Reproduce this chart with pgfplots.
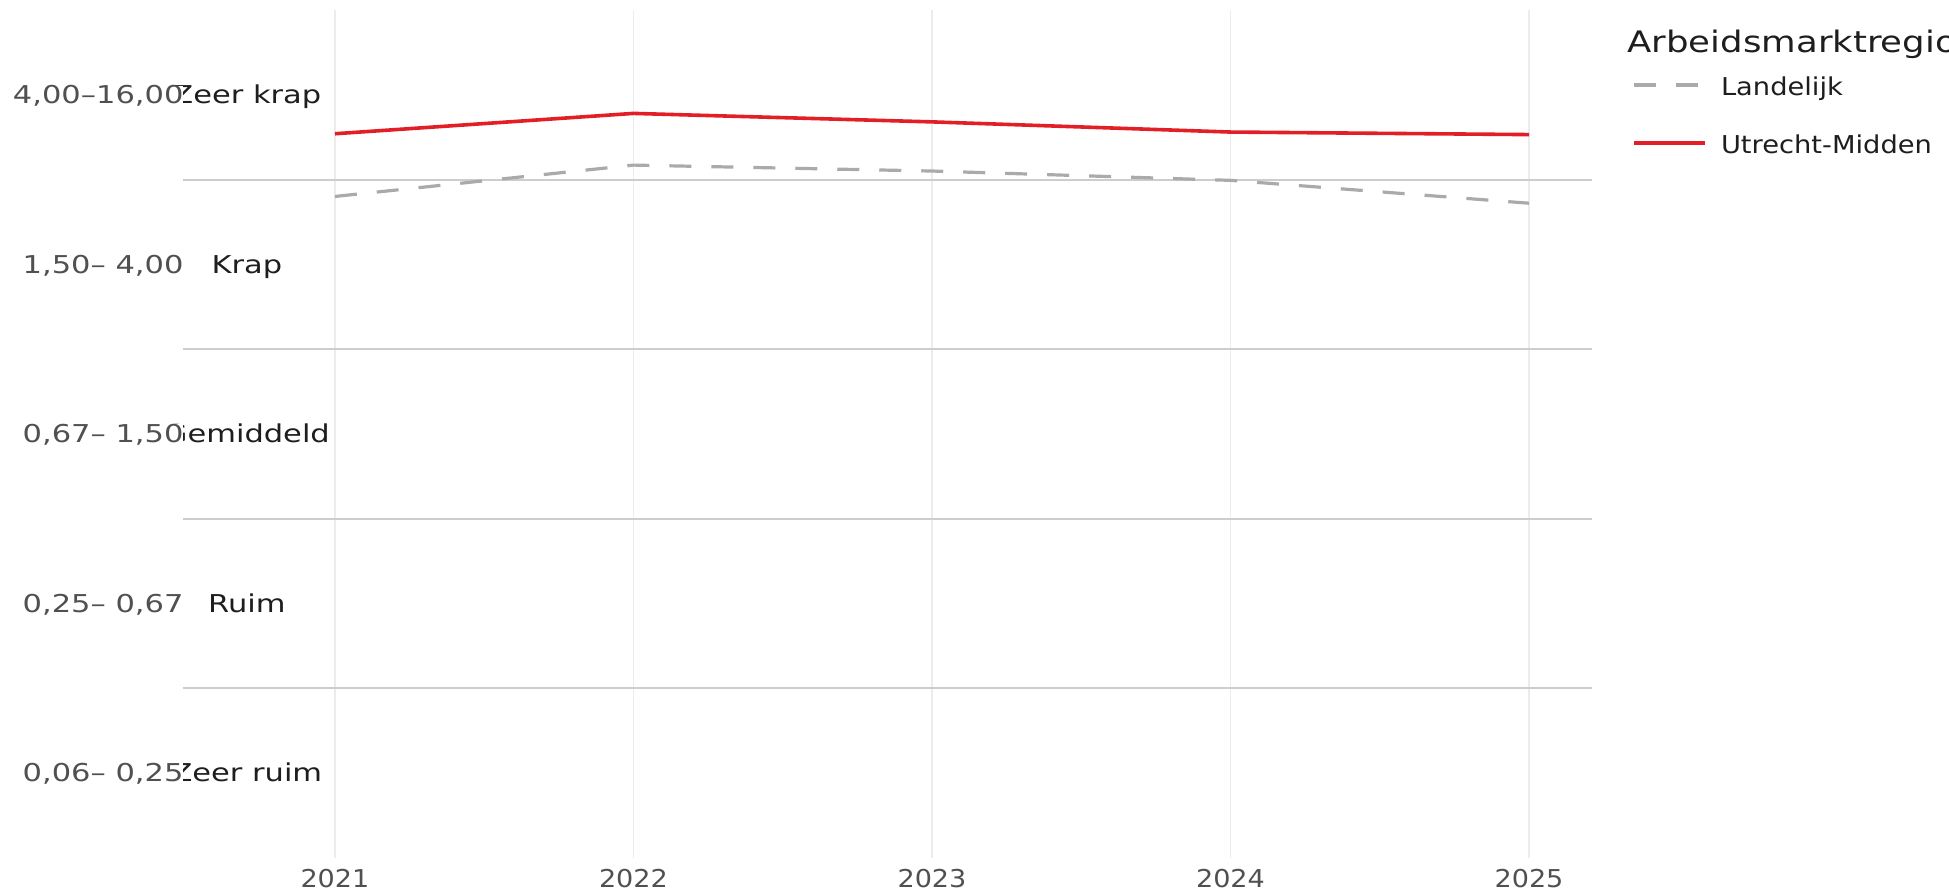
\documentclass[border=0pt]{standalone}
\usepackage{fontspec}
\setmainfont{DejaVu Sans}
\usepackage{graphicx}
\usepackage{pgfplots}
\pgfplotsset{compat=1.18}
\definecolor{redline}{RGB}{226,30,38}
\definecolor{grayline}{RGB}{170,170,170}
\definecolor{labgray}{RGB}{80,80,80}
\definecolor{labblack}{RGB}{30,30,30}
\definecolor{bandline}{RGB}{205,205,205}
\definecolor{vgrid}{RGB}{236,236,236}
\newcommand{\wt}[1]{\scalebox{1.24}[1]{#1}}
\newcommand{\wl}[1]{\scalebox{1.11}[1]{#1}}
\newcommand{\wy}[1]{\scalebox{1.1}[1]{#1}}
\newcommand{\fs}{\fontsize{12.3}{14}\selectfont}
\begin{document}
\begin{tikzpicture}
\useasboundingbox (-91.35pt,-16.75pt) rectangle (883.15pt,428.75pt);
\begin{axis}[
 scale only axis, width=704.65pt, height=423.75pt,
 xmin=2020.490, xmax=2025.211, ymin=0, ymax=5,
 xtick={2021,2022,2023,2024,2025},
 xticklabels={\wy{2021},\wy{2022},\wy{2023},\wy{2024},\wy{2025}},
 ytick={1,2,3,4}, yticklabels={},
 xmajorgrids, ymajorgrids,
 x grid style={vgrid, line width=0.6pt},
 y grid style={bandline, line width=1pt},
 axis line style={draw=none},
 major tick length=0pt,
 tick style={draw=none},
 xticklabel style={font=\fs, text=labgray, yshift=-2.3pt},
 clip=false,
 legend style={at={(rel axis cs:1.02838,0.92094)}, anchor=north west, draw=none, fill=none, inner sep=0pt, font=\fs, text=labblack, column sep=7pt, row sep=17.5pt, nodes={inner sep=0pt, text height=9pt, text depth=2.5pt}},
 legend cell align=left,
 legend image code/.code={\draw[#1] (0pt,2pt) -- (35.5pt,2pt);},
]
\addplot[grayline, line width=1.6pt, dash pattern=on 11pt off 10pt] coordinates {(2021,3.90) (2022,4.085) (2023,4.05) (2024,3.995) (2025,3.86)};
\addlegendentry{\wl{Landelijk}}
\addplot[redline, line width=1.8pt] coordinates {(2021,4.27) (2022,4.39) (2023,4.34) (2024,4.28) (2025,4.265)};
\addlegendentry{\wl{Utrecht-Midden}}
\node[anchor=base, inner sep=0pt, font=\fs, text=labblack, yshift=-4.5pt] at (axis cs:2020.705,4.5) {\wt{Zeer krap}};
\node[anchor=base, inner sep=0pt, font=\fs, text=labblack, yshift=-4.5pt] at (axis cs:2020.705,3.5) {\wt{Krap}};
\node[anchor=base, inner sep=0pt, font=\fs, text=labblack, yshift=-4.5pt] at (axis cs:2020.705,2.5) {\wt{Gemiddeld}};
\node[anchor=base, inner sep=0pt, font=\fs, text=labblack, yshift=-4.5pt] at (axis cs:2020.705,1.5) {\wt{Ruim}};
\node[anchor=base, inner sep=0pt, font=\fs, text=labblack, yshift=-4.5pt] at (axis cs:2020.705,0.5) {\wt{Zeer ruim}};
\node[anchor=base east, inner sep=0pt, fill=white, font=\fs, text=labgray, xshift=0.6pt, yshift=-4.5pt] at (axis cs:2020.490,4.5) {\wt{4,00–16,00}};
\node[anchor=base east, inner sep=0pt, fill=white, font=\fs, text=labgray, xshift=0.6pt, yshift=-4.5pt] at (axis cs:2020.490,3.5) {\wt{1,50– 4,00}};
\node[anchor=base east, inner sep=0pt, fill=white, font=\fs, text=labgray, xshift=0.6pt, yshift=-4.5pt] at (axis cs:2020.490,2.5) {\wt{0,67– 1,50}};
\node[anchor=base east, inner sep=0pt, fill=white, font=\fs, text=labgray, xshift=0.6pt, yshift=-4.5pt] at (axis cs:2020.490,1.5) {\wt{0,25– 0,67}};
\node[anchor=base east, inner sep=0pt, fill=white, font=\fs, text=labgray, xshift=0.6pt, yshift=-4.5pt] at (axis cs:2020.490,0.5) {\wt{0,06– 0,25}};
\end{axis}
\node[anchor=base west, inner sep=0pt, font=\fontsize{14.8}{17}\selectfont, text=labblack] at (722.15pt,402.25pt) {\scalebox{1.2}[1]{Arbeidsmarktregio}};
\end{tikzpicture}
\end{document}
